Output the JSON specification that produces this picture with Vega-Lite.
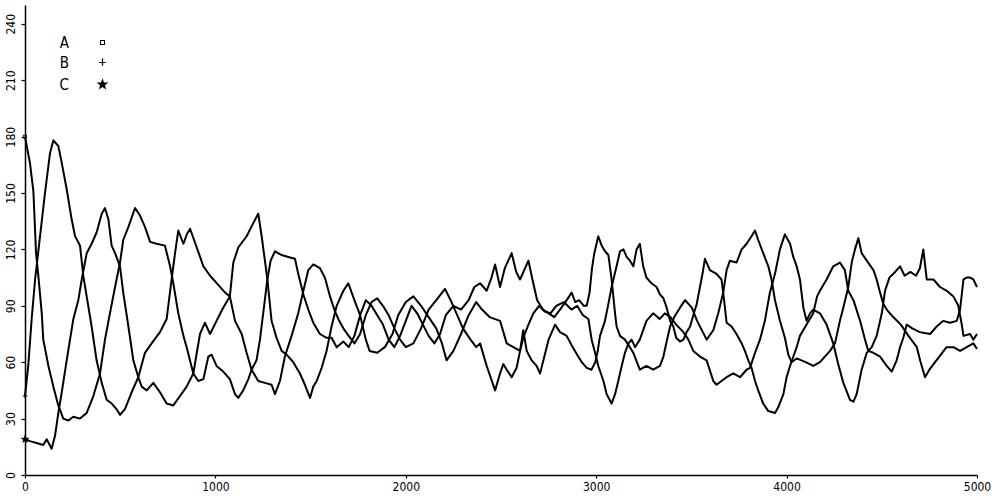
{
"$schema":"https://vega.github.io/schema/vega-lite/v6.json",
"width":952,"height":470,
"autosize":"none",
"padding":{"left":25,"top":5,"right":17,"bottom":21},
"background":"white",
"config":{"view":{"stroke":null},"font":"DejaVu Sans Condensed"},
"data":{"values":[
{"s":"A","t":0,"n":180},{"s":"A","t":26,"n":166},{"s":"A","t":44,"n":151},{"s":"A","t":58,"n":118},{"s":"A","t":70,"n":106},{"s":"A","t":88,"n":86},{"s":"A","t":96,"n":72},{"s":"A","t":123,"n":58},{"s":"A","t":149,"n":47},{"s":"A","t":175,"n":37},{"s":"A","t":201,"n":30},{"s":"A","t":228,"n":29},{"s":"A","t":254,"n":31},{"s":"A","t":289,"n":30},{"s":"A","t":324,"n":33},{"s":"A","t":359,"n":42},{"s":"A","t":394,"n":54},{"s":"A","t":420,"n":72},{"s":"A","t":446,"n":86},{"s":"A","t":473,"n":100},{"s":"A","t":499,"n":113},{"s":"A","t":516,"n":125},{"s":"A","t":543,"n":132},{"s":"A","t":578,"n":142},{"s":"A","t":604,"n":138},{"s":"A","t":630,"n":132},{"s":"A","t":657,"n":124},{"s":"A","t":691,"n":123},{"s":"A","t":735,"n":122},{"s":"A","t":762,"n":111},{"s":"A","t":779,"n":102},{"s":"A","t":805,"n":86},{"s":"A","t":832,"n":74},{"s":"A","t":849,"n":68},{"s":"A","t":884,"n":54},{"s":"A","t":910,"n":50},{"s":"A","t":937,"n":51},{"s":"A","t":963,"n":63},{"s":"A","t":980,"n":64},{"s":"A","t":1006,"n":58},{"s":"A","t":1041,"n":55},{"s":"A","t":1076,"n":51},{"s":"A","t":1103,"n":43},{"s":"A","t":1120,"n":41},{"s":"A","t":1146,"n":45},{"s":"A","t":1173,"n":51},{"s":"A","t":1190,"n":56},{"s":"A","t":1216,"n":61},{"s":"A","t":1234,"n":72},{"s":"A","t":1251,"n":86},{"s":"A","t":1273,"n":104},{"s":"A","t":1290,"n":114},{"s":"A","t":1313,"n":119},{"s":"A","t":1348,"n":117},{"s":"A","t":1383,"n":116},{"s":"A","t":1418,"n":115},{"s":"A","t":1435,"n":107},{"s":"A","t":1462,"n":96},{"s":"A","t":1488,"n":88},{"s":"A","t":1514,"n":81},{"s":"A","t":1549,"n":75},{"s":"A","t":1584,"n":73},{"s":"A","t":1610,"n":73},{"s":"A","t":1637,"n":68},{"s":"A","t":1672,"n":71},{"s":"A","t":1700,"n":68},{"s":"A","t":1730,"n":74},{"s":"A","t":1760,"n":85},{"s":"A","t":1790,"n":93},{"s":"A","t":1820,"n":90},{"s":"A","t":1850,"n":85},{"s":"A","t":1880,"n":80},{"s":"A","t":1910,"n":72},{"s":"A","t":1940,"n":68},{"s":"A","t":1970,"n":74},{"s":"A","t":2000,"n":82},{"s":"A","t":2030,"n":90},{"s":"A","t":2060,"n":86},{"s":"A","t":2090,"n":80},{"s":"A","t":2120,"n":74},{"s":"A","t":2150,"n":70},{"s":"A","t":2180,"n":75},{"s":"A","t":2210,"n":85},{"s":"A","t":2250,"n":90},{"s":"A","t":2290,"n":88},{"s":"A","t":2330,"n":93},{"s":"A","t":2360,"n":100},{"s":"A","t":2390,"n":102},{"s":"A","t":2425,"n":98},{"s":"A","t":2450,"n":105},{"s":"A","t":2469,"n":112},{"s":"A","t":2495,"n":100},{"s":"A","t":2520,"n":110},{"s":"A","t":2556,"n":118},{"s":"A","t":2580,"n":108},{"s":"A","t":2600,"n":104},{"s":"A","t":2644,"n":114},{"s":"A","t":2665,"n":104},{"s":"A","t":2690,"n":93},{"s":"A","t":2720,"n":88},{"s":"A","t":2750,"n":86},{"s":"A","t":2780,"n":84},{"s":"A","t":2810,"n":88},{"s":"A","t":2845,"n":93},{"s":"A","t":2871,"n":97},{"s":"A","t":2890,"n":92},{"s":"A","t":2910,"n":93},{"s":"A","t":2935,"n":90},{"s":"A","t":2950,"n":90},{"s":"A","t":2965,"n":97},{"s":"A","t":2978,"n":110},{"s":"A","t":2990,"n":118},{"s":"A","t":3011,"n":127},{"s":"A","t":3029,"n":122},{"s":"A","t":3046,"n":119},{"s":"A","t":3064,"n":117},{"s":"A","t":3081,"n":104},{"s":"A","t":3090,"n":95},{"s":"A","t":3099,"n":86},{"s":"A","t":3107,"n":79},{"s":"A","t":3125,"n":74},{"s":"A","t":3151,"n":72},{"s":"A","t":3177,"n":68},{"s":"A","t":3195,"n":65},{"s":"A","t":3229,"n":56},{"s":"A","t":3264,"n":58},{"s":"A","t":3299,"n":56},{"s":"A","t":3335,"n":58},{"s":"A","t":3353,"n":63},{"s":"A","t":3370,"n":71},{"s":"A","t":3388,"n":79},{"s":"A","t":3410,"n":84},{"s":"A","t":3440,"n":89},{"s":"A","t":3467,"n":93},{"s":"A","t":3502,"n":89},{"s":"A","t":3530,"n":82},{"s":"A","t":3560,"n":76},{"s":"A","t":3580,"n":72},{"s":"A","t":3615,"n":77},{"s":"A","t":3641,"n":86},{"s":"A","t":3667,"n":97},{"s":"A","t":3685,"n":109},{"s":"A","t":3702,"n":114},{"s":"A","t":3737,"n":113},{"s":"A","t":3764,"n":120},{"s":"A","t":3790,"n":123},{"s":"A","t":3816,"n":127},{"s":"A","t":3834,"n":130},{"s":"A","t":3851,"n":125},{"s":"A","t":3877,"n":118},{"s":"A","t":3904,"n":111},{"s":"A","t":3921,"n":104},{"s":"A","t":3939,"n":93},{"s":"A","t":3965,"n":82},{"s":"A","t":3991,"n":73},{"s":"A","t":4009,"n":64},{"s":"A","t":4026,"n":60},{"s":"A","t":4053,"n":62},{"s":"A","t":4100,"n":60},{"s":"A","t":4140,"n":58},{"s":"A","t":4175,"n":60},{"s":"A","t":4201,"n":63},{"s":"A","t":4228,"n":66},{"s":"A","t":4254,"n":70},{"s":"A","t":4280,"n":82},{"s":"A","t":4298,"n":89},{"s":"A","t":4324,"n":100},{"s":"A","t":4342,"n":113},{"s":"A","t":4359,"n":120},{"s":"A","t":4377,"n":126},{"s":"A","t":4394,"n":118},{"s":"A","t":4421,"n":114},{"s":"A","t":4456,"n":109},{"s":"A","t":4473,"n":104},{"s":"A","t":4491,"n":97},{"s":"A","t":4508,"n":91},{"s":"A","t":4526,"n":88},{"s":"A","t":4560,"n":84},{"s":"A","t":4600,"n":80},{"s":"A","t":4640,"n":74},{"s":"A","t":4684,"n":68},{"s":"A","t":4701,"n":61},{"s":"A","t":4727,"n":52},{"s":"A","t":4750,"n":56},{"s":"A","t":4780,"n":60},{"s":"A","t":4810,"n":64},{"s":"A","t":4840,"n":68},{"s":"A","t":4876,"n":68},{"s":"A","t":4911,"n":66},{"s":"A","t":4946,"n":68},{"s":"A","t":4981,"n":70},{"s":"A","t":5000,"n":67},
{"s":"B","t":0,"n":42},{"s":"B","t":17,"n":58},{"s":"B","t":35,"n":83},{"s":"B","t":53,"n":104},{"s":"B","t":79,"n":127},{"s":"B","t":105,"n":150},{"s":"B","t":131,"n":171},{"s":"B","t":149,"n":178},{"s":"B","t":175,"n":175},{"s":"B","t":193,"n":166},{"s":"B","t":219,"n":152},{"s":"B","t":245,"n":136},{"s":"B","t":263,"n":127},{"s":"B","t":289,"n":122},{"s":"B","t":306,"n":106},{"s":"B","t":324,"n":95},{"s":"B","t":350,"n":79},{"s":"B","t":376,"n":61},{"s":"B","t":403,"n":49},{"s":"B","t":429,"n":40},{"s":"B","t":455,"n":38},{"s":"B","t":481,"n":35},{"s":"B","t":499,"n":32},{"s":"B","t":525,"n":35},{"s":"B","t":560,"n":44},{"s":"B","t":595,"n":52},{"s":"B","t":630,"n":65},{"s":"B","t":665,"n":70},{"s":"B","t":709,"n":76},{"s":"B","t":744,"n":83},{"s":"B","t":770,"n":104},{"s":"B","t":788,"n":118},{"s":"B","t":805,"n":130},{"s":"B","t":832,"n":123},{"s":"B","t":850,"n":128},{"s":"B","t":867,"n":131},{"s":"B","t":902,"n":121},{"s":"B","t":937,"n":111},{"s":"B","t":972,"n":106},{"s":"B","t":1016,"n":101},{"s":"B","t":1051,"n":97},{"s":"B","t":1076,"n":95},{"s":"B","t":1103,"n":82},{"s":"B","t":1138,"n":75},{"s":"B","t":1164,"n":65},{"s":"B","t":1190,"n":56},{"s":"B","t":1225,"n":50},{"s":"B","t":1260,"n":49},{"s":"B","t":1295,"n":48},{"s":"B","t":1313,"n":43},{"s":"B","t":1339,"n":50},{"s":"B","t":1365,"n":63},{"s":"B","t":1400,"n":74},{"s":"B","t":1435,"n":86},{"s":"B","t":1462,"n":98},{"s":"B","t":1488,"n":109},{"s":"B","t":1514,"n":112},{"s":"B","t":1549,"n":110},{"s":"B","t":1575,"n":105},{"s":"B","t":1602,"n":95},{"s":"B","t":1628,"n":87},{"s":"B","t":1650,"n":82},{"s":"B","t":1672,"n":78},{"s":"B","t":1700,"n":74},{"s":"B","t":1730,"n":70},{"s":"B","t":1760,"n":75},{"s":"B","t":1790,"n":85},{"s":"B","t":1820,"n":92},{"s":"B","t":1850,"n":94},{"s":"B","t":1880,"n":90},{"s":"B","t":1910,"n":85},{"s":"B","t":1940,"n":78},{"s":"B","t":1970,"n":72},{"s":"B","t":2000,"n":68},{"s":"B","t":2040,"n":70},{"s":"B","t":2080,"n":78},{"s":"B","t":2120,"n":88},{"s":"B","t":2160,"n":93},{"s":"B","t":2206,"n":99},{"s":"B","t":2240,"n":92},{"s":"B","t":2270,"n":85},{"s":"B","t":2300,"n":78},{"s":"B","t":2340,"n":72},{"s":"B","t":2370,"n":68},{"s":"B","t":2390,"n":70},{"s":"B","t":2425,"n":58},{"s":"B","t":2469,"n":45},{"s":"B","t":2495,"n":54},{"s":"B","t":2512,"n":59},{"s":"B","t":2530,"n":56},{"s":"B","t":2556,"n":52},{"s":"B","t":2582,"n":57},{"s":"B","t":2600,"n":66},{"s":"B","t":2617,"n":73},{"s":"B","t":2644,"n":80},{"s":"B","t":2670,"n":86},{"s":"B","t":2700,"n":90},{"s":"B","t":2730,"n":87},{"s":"B","t":2760,"n":86},{"s":"B","t":2790,"n":90},{"s":"B","t":2830,"n":92},{"s":"B","t":2870,"n":88},{"s":"B","t":2900,"n":90},{"s":"B","t":2930,"n":85},{"s":"B","t":2959,"n":83},{"s":"B","t":2976,"n":72},{"s":"B","t":2994,"n":65},{"s":"B","t":3011,"n":58},{"s":"B","t":3038,"n":50},{"s":"B","t":3055,"n":43},{"s":"B","t":3081,"n":38},{"s":"B","t":3099,"n":43},{"s":"B","t":3116,"n":50},{"s":"B","t":3134,"n":58},{"s":"B","t":3151,"n":65},{"s":"B","t":3169,"n":70},{"s":"B","t":3186,"n":72},{"s":"B","t":3204,"n":68},{"s":"B","t":3229,"n":72},{"s":"B","t":3264,"n":82},{"s":"B","t":3299,"n":86},{"s":"B","t":3334,"n":83},{"s":"B","t":3360,"n":86},{"s":"B","t":3390,"n":84},{"s":"B","t":3420,"n":80},{"s":"B","t":3458,"n":76},{"s":"B","t":3484,"n":72},{"s":"B","t":3510,"n":66},{"s":"B","t":3545,"n":63},{"s":"B","t":3580,"n":61},{"s":"B","t":3615,"n":50},{"s":"B","t":3632,"n":48},{"s":"B","t":3658,"n":50},{"s":"B","t":3685,"n":52},{"s":"B","t":3720,"n":54},{"s":"B","t":3755,"n":52},{"s":"B","t":3790,"n":56},{"s":"B","t":3808,"n":57},{"s":"B","t":3834,"n":65},{"s":"B","t":3860,"n":72},{"s":"B","t":3886,"n":82},{"s":"B","t":3912,"n":97},{"s":"B","t":3939,"n":107},{"s":"B","t":3965,"n":120},{"s":"B","t":3991,"n":128},{"s":"B","t":4018,"n":123},{"s":"B","t":4035,"n":116},{"s":"B","t":4053,"n":111},{"s":"B","t":4070,"n":104},{"s":"B","t":4088,"n":89},{"s":"B","t":4105,"n":82},{"s":"B","t":4123,"n":86},{"s":"B","t":4140,"n":88},{"s":"B","t":4175,"n":86},{"s":"B","t":4210,"n":80},{"s":"B","t":4245,"n":70},{"s":"B","t":4271,"n":59},{"s":"B","t":4298,"n":49},{"s":"B","t":4333,"n":40},{"s":"B","t":4351,"n":39},{"s":"B","t":4368,"n":43},{"s":"B","t":4394,"n":56},{"s":"B","t":4421,"n":65},{"s":"B","t":4447,"n":68},{"s":"B","t":4473,"n":74},{"s":"B","t":4500,"n":86},{"s":"B","t":4517,"n":98},{"s":"B","t":4540,"n":105},{"s":"B","t":4570,"n":108},{"s":"B","t":4596,"n":111},{"s":"B","t":4620,"n":106},{"s":"B","t":4650,"n":108},{"s":"B","t":4680,"n":106},{"s":"B","t":4700,"n":110},{"s":"B","t":4718,"n":120},{"s":"B","t":4736,"n":104},{"s":"B","t":4771,"n":104},{"s":"B","t":4806,"n":100},{"s":"B","t":4841,"n":98},{"s":"B","t":4876,"n":95},{"s":"B","t":4902,"n":90},{"s":"B","t":4920,"n":80},{"s":"B","t":4929,"n":74},{"s":"B","t":4964,"n":75},{"s":"B","t":4981,"n":72},{"s":"B","t":5000,"n":75},
{"s":"C","t":0,"n":19},{"s":"C","t":26,"n":18},{"s":"C","t":61,"n":17},{"s":"C","t":96,"n":16},{"s":"C","t":114,"n":19},{"s":"C","t":140,"n":14},{"s":"C","t":158,"n":21},{"s":"C","t":175,"n":33},{"s":"C","t":193,"n":44},{"s":"C","t":219,"n":61},{"s":"C","t":254,"n":83},{"s":"C","t":280,"n":93},{"s":"C","t":298,"n":104},{"s":"C","t":324,"n":118},{"s":"C","t":350,"n":123},{"s":"C","t":376,"n":129},{"s":"C","t":403,"n":139},{"s":"C","t":420,"n":142},{"s":"C","t":438,"n":136},{"s":"C","t":455,"n":122},{"s":"C","t":473,"n":118},{"s":"C","t":499,"n":111},{"s":"C","t":516,"n":97},{"s":"C","t":543,"n":79},{"s":"C","t":569,"n":61},{"s":"C","t":595,"n":52},{"s":"C","t":613,"n":47},{"s":"C","t":639,"n":45},{"s":"C","t":674,"n":49},{"s":"C","t":709,"n":44},{"s":"C","t":744,"n":38},{"s":"C","t":779,"n":37},{"s":"C","t":814,"n":42},{"s":"C","t":849,"n":47},{"s":"C","t":884,"n":54},{"s":"C","t":919,"n":75},{"s":"C","t":945,"n":81},{"s":"C","t":972,"n":75},{"s":"C","t":1006,"n":82},{"s":"C","t":1041,"n":89},{"s":"C","t":1076,"n":95},{"s":"C","t":1094,"n":113},{"s":"C","t":1120,"n":121},{"s":"C","t":1164,"n":127},{"s":"C","t":1199,"n":134},{"s":"C","t":1225,"n":139},{"s":"C","t":1243,"n":127},{"s":"C","t":1260,"n":114},{"s":"C","t":1273,"n":104},{"s":"C","t":1295,"n":82},{"s":"C","t":1321,"n":73},{"s":"C","t":1348,"n":66},{"s":"C","t":1374,"n":64},{"s":"C","t":1409,"n":60},{"s":"C","t":1444,"n":54},{"s":"C","t":1470,"n":48},{"s":"C","t":1497,"n":41},{"s":"C","t":1514,"n":47},{"s":"C","t":1532,"n":50},{"s":"C","t":1558,"n":57},{"s":"C","t":1584,"n":66},{"s":"C","t":1610,"n":79},{"s":"C","t":1637,"n":90},{"s":"C","t":1672,"n":98},{"s":"C","t":1698,"n":102},{"s":"C","t":1730,"n":93},{"s":"C","t":1760,"n":85},{"s":"C","t":1790,"n":72},{"s":"C","t":1810,"n":66},{"s":"C","t":1850,"n":65},{"s":"C","t":1890,"n":68},{"s":"C","t":1930,"n":75},{"s":"C","t":1960,"n":85},{"s":"C","t":2000,"n":92},{"s":"C","t":2040,"n":95},{"s":"C","t":2080,"n":90},{"s":"C","t":2120,"n":84},{"s":"C","t":2160,"n":78},{"s":"C","t":2190,"n":70},{"s":"C","t":2214,"n":61},{"s":"C","t":2250,"n":66},{"s":"C","t":2290,"n":75},{"s":"C","t":2330,"n":85},{"s":"C","t":2370,"n":92},{"s":"C","t":2400,"n":88},{"s":"C","t":2440,"n":84},{"s":"C","t":2495,"n":82},{"s":"C","t":2530,"n":70},{"s":"C","t":2565,"n":68},{"s":"C","t":2600,"n":66},{"s":"C","t":2617,"n":77},{"s":"C","t":2635,"n":66},{"s":"C","t":2661,"n":61},{"s":"C","t":2687,"n":58},{"s":"C","t":2705,"n":54},{"s":"C","t":2725,"n":62},{"s":"C","t":2750,"n":72},{"s":"C","t":2784,"n":80},{"s":"C","t":2810,"n":76},{"s":"C","t":2845,"n":74},{"s":"C","t":2871,"n":69},{"s":"C","t":2900,"n":64},{"s":"C","t":2924,"n":60},{"s":"C","t":2950,"n":57},{"s":"C","t":2975,"n":56},{"s":"C","t":2995,"n":60},{"s":"C","t":3008,"n":66},{"s":"C","t":3020,"n":74},{"s":"C","t":3046,"n":82},{"s":"C","t":3064,"n":91},{"s":"C","t":3081,"n":100},{"s":"C","t":3107,"n":111},{"s":"C","t":3125,"n":119},{"s":"C","t":3143,"n":120},{"s":"C","t":3160,"n":116},{"s":"C","t":3177,"n":114},{"s":"C","t":3195,"n":111},{"s":"C","t":3212,"n":120},{"s":"C","t":3229,"n":123},{"s":"C","t":3247,"n":111},{"s":"C","t":3264,"n":105},{"s":"C","t":3290,"n":102},{"s":"C","t":3317,"n":100},{"s":"C","t":3335,"n":96},{"s":"C","t":3353,"n":94},{"s":"C","t":3370,"n":89},{"s":"C","t":3388,"n":82},{"s":"C","t":3405,"n":79},{"s":"C","t":3420,"n":73},{"s":"C","t":3440,"n":71},{"s":"C","t":3458,"n":72},{"s":"C","t":3475,"n":76},{"s":"C","t":3493,"n":79},{"s":"C","t":3510,"n":85},{"s":"C","t":3528,"n":91},{"s":"C","t":3545,"n":100},{"s":"C","t":3560,"n":108},{"s":"C","t":3571,"n":115},{"s":"C","t":3597,"n":109},{"s":"C","t":3632,"n":107},{"s":"C","t":3658,"n":104},{"s":"C","t":3667,"n":97},{"s":"C","t":3685,"n":81},{"s":"C","t":3711,"n":79},{"s":"C","t":3737,"n":75},{"s":"C","t":3764,"n":70},{"s":"C","t":3781,"n":66},{"s":"C","t":3799,"n":61},{"s":"C","t":3816,"n":57},{"s":"C","t":3834,"n":50},{"s":"C","t":3851,"n":45},{"s":"C","t":3877,"n":38},{"s":"C","t":3904,"n":34},{"s":"C","t":3939,"n":33},{"s":"C","t":3956,"n":36},{"s":"C","t":3983,"n":43},{"s":"C","t":4000,"n":52},{"s":"C","t":4018,"n":58},{"s":"C","t":4053,"n":68},{"s":"C","t":4070,"n":74},{"s":"C","t":4105,"n":80},{"s":"C","t":4140,"n":86},{"s":"C","t":4160,"n":95},{"s":"C","t":4175,"n":98},{"s":"C","t":4210,"n":104},{"s":"C","t":4245,"n":111},{"s":"C","t":4280,"n":113},{"s":"C","t":4306,"n":109},{"s":"C","t":4324,"n":98},{"s":"C","t":4351,"n":93},{"s":"C","t":4386,"n":82},{"s":"C","t":4412,"n":72},{"s":"C","t":4429,"n":66},{"s":"C","t":4456,"n":65},{"s":"C","t":4491,"n":63},{"s":"C","t":4526,"n":58},{"s":"C","t":4552,"n":55},{"s":"C","t":4578,"n":61},{"s":"C","t":4596,"n":68},{"s":"C","t":4613,"n":73},{"s":"C","t":4631,"n":80},{"s":"C","t":4660,"n":78},{"s":"C","t":4700,"n":76},{"s":"C","t":4754,"n":75},{"s":"C","t":4788,"n":79},{"s":"C","t":4823,"n":82},{"s":"C","t":4858,"n":81},{"s":"C","t":4894,"n":82},{"s":"C","t":4911,"n":88},{"s":"C","t":4929,"n":104},{"s":"C","t":4946,"n":105},{"s":"C","t":4964,"n":105},{"s":"C","t":4981,"n":104},{"s":"C","t":5000,"n":100}
]},
"encoding":{
"x":{"field":"t","type":"quantitative","scale":{"domain":[0,5000],"nice":false,"zero":false},
"axis":{"values":[0,1000,2000,3000,4000,5000],"format":"d","title":null,"grid":false,"domainColor":"black","domainWidth":1.5,"tickColor":"black","tickWidth":1.2,"tickSize":3,"labelFontSize":12,"labelPadding":3,"labelColor":"black","labelFlush":false,"labelFont":"DejaVu Sans Condensed"}},
"y":{"field":"n","type":"quantitative","scale":{"domain":[0,250],"nice":false},
"axis":{"values":[0,30,60,90,120,150,180,210,240],"title":null,"grid":false,"domainColor":"black","domainWidth":1.5,"tickColor":"black","tickWidth":1.2,"tickSize":4,"labelAngle":270,"labelAlign":"center","labelBaseline":"bottom","labelFontSize":12,"labelPadding":4,"labelColor":"black","labelFlush":false,"labelFont":"DejaVu Sans Condensed"}}
},
"layer":[
{"mark":{"type":"line","color":"black","strokeWidth":2,"strokeJoin":"round"},
"encoding":{"detail":{"field":"s","type":"nominal"}}},
{"transform":[{"filter":"datum.t == 0"}],
"mark":{"type":"point","filled":true,"color":"black","size":40,"opacity":1},
"encoding":{"shape":{"field":"s","type":"nominal",
"scale":{"domain":["A","B","C"],"range":["M-0.6,-0.6H0.6V0.6H-0.6ZM-0.35,-0.35V0.35H0.35V-0.35Z","M-0.14,-0.95H0.14V-0.14H0.75V0.14H0.14V0.8H-0.14V0.14H-0.75V-0.14H-0.14Z","M0,-1.5L0.35,-0.49L1.43,-0.46L0.57,0.19L0.88,1.21L0,0.6L-0.88,1.21L-0.57,0.19L-1.43,-0.46L-0.35,-0.49Z"]},
"legend":{"orient":"none","legendX":70,"legendY":30,"title":null,"labelFontSize":15,"labelFont":"DejaVu Sans Condensed","labelColor":"black","labelAlign":"right","labelOffset":-41,"rowPadding":4,"symbolSize":70,"symbolFillColor":"black","symbolStrokeColor":"black"}}}}
]
}
